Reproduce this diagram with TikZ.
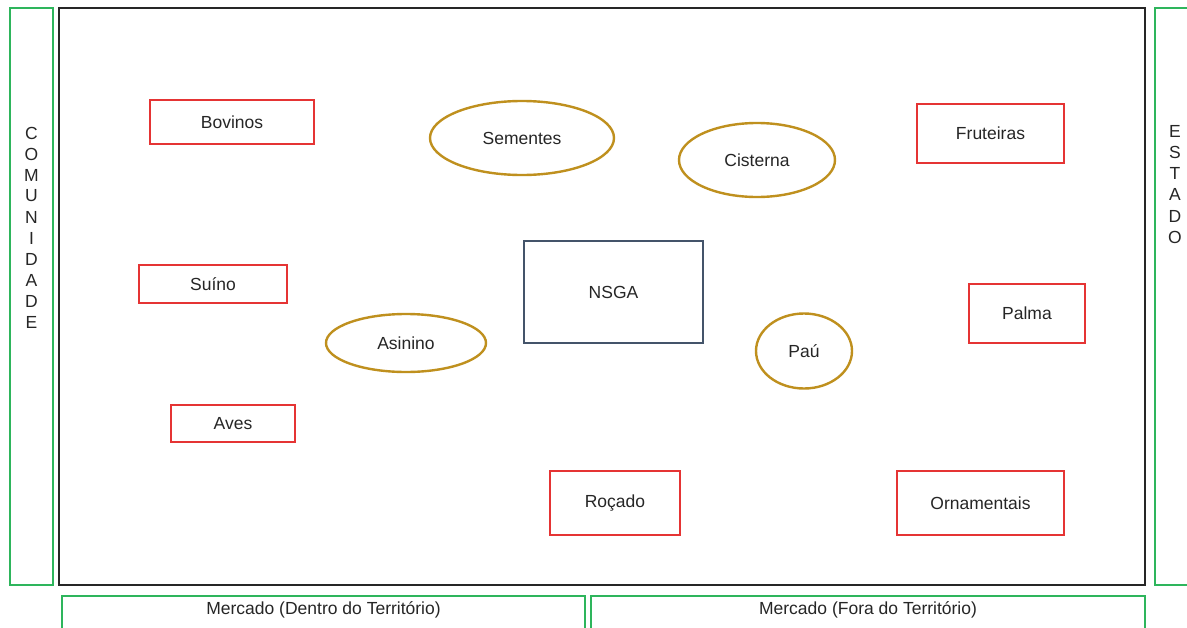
\documentclass[tikz,border=0pt]{standalone}
\usepackage{fontspec}
\setmainfont{Liberation Sans}
\usetikzlibrary{shapes.geometric}

\definecolor{redbox}{RGB}{229,52,52}
\definecolor{goldline}{RGB}{191,144,30}
\definecolor{greenbox}{RGB}{46,181,92}
\definecolor{nsgablue}{RGB}{68,84,106}
\definecolor{textgray}{RGB}{38,38,38}

\tikzset{
producao/.style={draw=redbox,line width=2.6pt,rectangle,inner sep=0pt},
recurso/.style={draw=goldline,line width=2.4pt,ellipse,inner sep=0pt},
ator/.style={draw=greenbox,line width=2.4pt,rectangle,inner sep=0pt}}

\begin{document}
\begin{tikzpicture}
  [x=1pt,y=-1pt,
   every node/.style={font=\fontsize{17.5}{21}\selectfont,text=textgray}]
  \useasboundingbox (0,0) rectangle (1187,627);
  \fill[white] (0,0) rectangle (1187,627);
  % atores de fora
  \node[ator,minimum width=43pt,minimum height=577pt] (comunidade) at (31.5,296.5) {};
  \foreach \l [count=\i] in {C,O,M,U,N,I,D,A,D,E}
    \node[inner sep=0pt] (com-\i) at (31.5,{133+21*(\i-1)}) {\l};
  \node[ator,minimum width=40pt,minimum height=577pt] (estado) at (1175,296.5) {};
  \foreach \l [count=\i] in {E,S,T,A,D,O}
    \node[inner sep=0pt] (est-\i) at (1175,{131+21.3*(\i-1)}) {\l};
  \node[ator,minimum width=523pt,minimum height=50pt] (mercadodentro) at (323.5,621) {};
  \node (mercadodentrotxt) at (323.5,610) {Mercado (Dentro do Território)};
  \node[ator,minimum width=554pt,minimum height=50pt] (mercadofora) at (868,621) {};
  \node (mercadoforatxt) at (868,610) {Mercado (Fora do Território)};
  % territorio
  \node[draw=black!85,line width=2.8pt,minimum width=1086pt,minimum height=577pt] (territorio) at (602,296.5) {};
  \node[draw=nsgablue,line width=2.4pt,minimum width=179pt,minimum height=102pt] (nsga) at (613.5,292) {NSGA};
  % criacoes
  \node[producao,minimum width=164pt,minimum height=44pt] (bovinos) at (232,122) {Bovinos};
  \node[producao,minimum width=148pt,minimum height=38pt] (suino) at (213,284) {Suíno};
  \node[producao,minimum width=124pt,minimum height=37pt] (aves) at (233,423.5) {Aves};
  % plantios
  \node[producao,minimum width=147pt,minimum height=59pt] (fruteiras) at (990.5,133.5) {Fruteiras};
  \node[producao,minimum width=116pt,minimum height=59pt] (palma) at (1027,313.5) {Palma};
  \node[producao,minimum width=130pt,minimum height=64pt] (rocado) at (615,503) {Roçado};
  \node[producao,minimum width=167pt,minimum height=64pt] (ornamentais) at (980.5,503) {Ornamentais};
  % recursos
  \node[recurso,minimum width=184pt,minimum height=74pt] (sementes) at (522,138) {Sementes};
  \node[recurso,minimum width=156pt,minimum height=74pt] (cisterna) at (757,160) {Cisterna};
  \node[recurso,minimum width=160pt,minimum height=58pt] (asinino) at (406,343) {Asinino};
  \node[recurso,minimum width=96pt,minimum height=75pt] (pau) at (804,351) {Paú};
\end{tikzpicture}
\end{document}
